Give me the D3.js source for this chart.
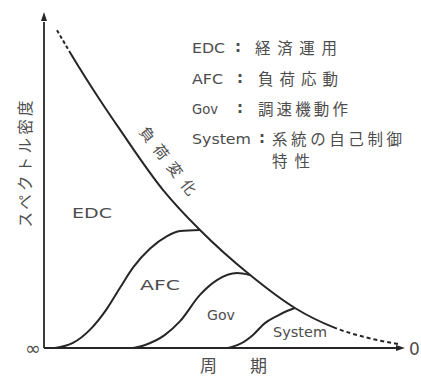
<!DOCTYPE html>
<html>
<head>
<meta charset="utf-8">
<script src="https://cdn.jsdelivr.net/npm/d3@7"></script>
<style>
  html, body { margin: 0; padding: 0; background: #fff; }
  svg { display: block; }
  text { fill: #4d4d4d; font-family: "DejaVu Sans", sans-serif; }
  .jp { font-family: "Noto Sans CJK JP", sans-serif; }
</style>
</head>
<body>
<script>
// Load-fluctuation spectrum vs. period, and the share handled by each control layer.
// x: period position (0 = ∞ at the left, 100 = 0 at the right); y: relative spectral density.

// Overall load-change envelope
const envelopeX = [3.6, 7.8, 15.5, 21.1, 33.0, 43.2, 57.1, 69.5, 80.1, 89.0, 98.1];
const envelopeY = [94.6, 86.9, 73.8, 64.9, 47.0, 35.1, 21.7, 11.9, 6.2, 3.2, 1.2];
const dashHeadEnd = 1;   // envelope dashed up to this index
const dashTailStart = 8; // envelope dashed from this index

// AFC band
const afcX = [3.0, 8.0, 12.7, 17.5, 21.1, 24.7, 29.4, 34.1, 37.7, 43.2];
const afcY = [0, 1.5, 5.4, 11.8, 18.0, 24.0, 29.6, 33.3, 34.8, 35.1];

// Governor band
const govX = [24.7, 28.0, 33.5, 37.7, 43.2, 47.9, 53.5, 57.1];
const govY = [0, 0.9, 3.9, 8.0, 15.8, 20.2, 22.3, 21.7];

// System self-regulation band
const sysX = [51.0, 54.3, 57.9, 61.2, 64.5, 67.3, 69.5];
const sysY = [0, 1.2, 3.9, 7.4, 9.5, 11.0, 11.9];

const legendKeys = ["EDC", "AFC", "Gov", "System"];
const legendTexts = ["経済運用", "負荷応動", "調速機動作", "系統の自己制御"];
const legendExtra = "特性";
const regionLabels = ["EDC", "AFC", "Gov", "System"];
const envelopeLabel = "負荷変化";
const yTitle = "スペクトル密度";
const xTitleParts = ["周", "期"];
const xEnds = ["∞", "0"];

const W = 421, H = 378;
const x = d3.scaleLinear().domain([0, 100]).range([44, 405]);
const y = d3.scaleLinear().domain([0, 100]).range([348, 12]);

const svg = d3.select("body").append("svg").attr("width", W).attr("height", H);
const ink = "#262626";

const line = d3.line().x(d => x(d[0])).y(d => y(d[1])).curve(d3.curveMonotoneX);
const pts = (xs, ys) => xs.map((v, i) => [v, ys[i]]);

// axes with arrow heads
svg.append("line").attr("x1", x(0)).attr("y1", y(0)).attr("x2", x(0)).attr("y2", y(97))
  .attr("stroke", ink).attr("stroke-width", 1.8);
svg.append("path")
  .attr("d", `M${x(0)},${y(100)} L${x(0) - 3},${y(100) + 9} L${x(0) + 3},${y(100) + 9} Z`)
  .attr("fill", ink);
svg.append("line").attr("x1", x(0)).attr("y1", y(0)).attr("x2", x(97.5)).attr("y2", y(0))
  .attr("stroke", ink).attr("stroke-width", 1.8);
svg.append("path")
  .attr("d", `M${x(100)},${y(0)} L${x(100) - 9},${y(0) - 3} L${x(100) - 9},${y(0) + 3} Z`)
  .attr("fill", ink);

// envelope: one curve, dashed at the head and tail, solid in between
const env = pts(envelopeX, envelopeY);
const envPath = svg.append("path").attr("d", line(env)).attr("fill", "none")
  .attr("stroke", ink).attr("stroke-width", 2);
(function () {
  const node = envPath.node();
  const total = node.getTotalLength();
  const lenAtX = target => {
    let lo = 0, hi = total;
    for (let k = 0; k < 40; k++) {
      const mid = (lo + hi) / 2;
      if (node.getPointAtLength(mid).x < x(target)) lo = mid; else hi = mid;
    }
    return lo;
  };
  const a = lenAtX(envelopeX[dashHeadEnd]);
  const b = lenAtX(envelopeX[dashTailStart]);
  const arr = [];
  let s = 0;
  while (s + 6 <= a) { arr.push(3.5, 2.5); s += 6; }
  arr.push(b - s, 0);
  let t = b;
  while (t < total) { arr.push(4, 3); t += 7; }
  envPath.attr("stroke-dasharray", arr.join(" "));
})();

// control bands
[[afcX, afcY], [govX, govY], [sysX, sysY]].forEach(([xs, ys]) => {
  svg.append("path").attr("d", line(pts(xs, ys))).attr("fill", "none")
    .attr("stroke", ink).attr("stroke-width", 2);
});

// region labels
const regionPos = [[72, 218, 40], [140, 290, 40], [207, 320, 28], [273, 337, 54]];
regionLabels.forEach((t, i) => {
  const [px, py, w] = regionPos[i];
  svg.append("text").attr("x", px).attr("y", py).attr("font-size", 13.5)
    .attr("textLength", w).attr("lengthAdjust", "spacingAndGlyphs").text(t);
});

// label along the envelope
svg.append("text").attr("class", "jp")
  .attr("transform", "translate(168,161) rotate(52)")
  .attr("text-anchor", "middle").attr("dy", "0.35em")
  .attr("font-size", 15).attr("textLength", 82).attr("lengthAdjust", "spacing")
  .text(envelopeLabel);

// legend
const rowY = [53, 84, 114, 144];
const keyW = [33, 31, 26, 59];
const colonX = [235, 237, 237, 259];
const jpX = [255, 258, 258, 272];
const jpW = [82, 80, 90, 130];
legendKeys.forEach((k, i) => {
  svg.append("text").attr("x", 192).attr("y", rowY[i]).attr("font-size", 14.5)
    .attr("textLength", keyW[i]).attr("lengthAdjust", "spacingAndGlyphs").text(k);
  svg.append("text").attr("x", colonX[i]).attr("y", rowY[i] - 1).attr("font-size", 15)
    .attr("font-weight", "bold").text(":");
  svg.append("text").attr("class", "jp").attr("x", jpX[i]).attr("y", rowY[i] + 1)
    .attr("font-size", 15.5).attr("textLength", jpW[i]).attr("lengthAdjust", "spacing")
    .text(legendTexts[i]);
});
svg.append("text").attr("class", "jp").attr("x", 272).attr("y", 167)
  .attr("font-size", 15.5).attr("textLength", 38).attr("lengthAdjust", "spacing")
  .text(legendExtra);

// axis titles
svg.append("text").attr("class", "jp")
  .attr("transform", "translate(26,164) rotate(-90)")
  .attr("text-anchor", "middle").attr("dy", "0.35em")
  .attr("font-size", 15.5).attr("textLength", 127).attr("lengthAdjust", "spacing")
  .text(yTitle);
svg.append("text").attr("class", "jp").attr("x", 200).attr("y", 372)
  .attr("font-size", 17).text(xTitleParts[0]);
svg.append("text").attr("class", "jp").attr("x", 250).attr("y", 372)
  .attr("font-size", 17).text(xTitleParts[1]);

// axis end marks
svg.append("text").attr("x", 25).attr("y", 355).attr("font-size", 19).text(xEnds[0]);
svg.append("text").attr("x", 409).attr("y", 355).attr("font-size", 17).text(xEnds[1]);
</script>
</body>
</html>
